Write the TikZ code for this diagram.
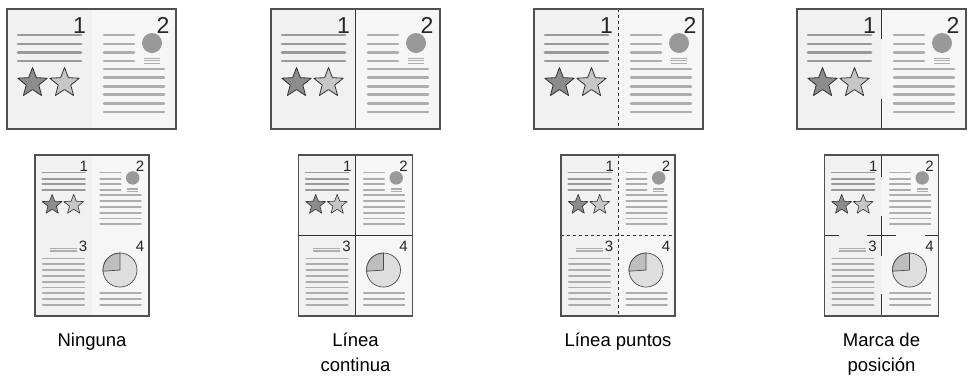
\documentclass[tikz,border=0pt]{standalone}
\usepackage{fontspec}
\setmainfont{Liberation Sans}
\usetikzlibrary{calc}
\definecolor{bgL}{HTML}{F1F1F1}
\definecolor{bgR}{HTML}{F6F6F6}
\definecolor{lnA}{HTML}{999999}
\definecolor{lnB}{HTML}{ADADAD}
\definecolor{frm}{HTML}{505050}
\definecolor{starA}{HTML}{8C8C8C}
\definecolor{starB}{HTML}{C6C6C6}
\definecolor{pieA}{HTML}{DEDEDE}
\definecolor{pieB}{HTML}{BEBEBE}
\newcommand\mystar[3]{%
  \draw[staredge, fill=#3] ($(#1,#2)+(-90:15.5)$) -- ($(#1,#2)+(-54:6.6)$) -- ($(#1,#2)+(-18:15.5)$) -- ($(#1,#2)+(18:6.6)$) -- ($(#1,#2)+(54:15.5)$) -- ($(#1,#2)+(90:6.6)$) -- ($(#1,#2)+(126:15.5)$) -- ($(#1,#2)+(162:6.6)$) -- ($(#1,#2)+(198:15.5)$) -- ($(#1,#2)+(234:6.6)$) -- cycle;}
\tikzset{
  txtA/.style={draw=lnA, line width=2.7pt, line cap=round},
  txtB/.style={draw=lnB, line width=2.7pt, line cap=round},
  thinB/.style={draw=lnB, line width=0.9pt},
  staredge/.style={draw=black!80, line width=0.8pt, line join=round},
  pieedge/.style={draw=black!70, line width=0.8pt},
  digit/.style={font=\fontsize{23}{23}\selectfont, inner sep=0pt, anchor=base east, text=black!85},
  frame/.style={draw=frm, line width=1.5pt},
  divider/.style={draw=black!80, line width=1.1pt},
  dotdiv/.style={draw=black!80, line width=0.9pt, dash pattern=on 3pt off 3pt},
  lbl/.style={font=\fontsize{18.5}{25}\selectfont, inner sep=0pt, anchor=north, align=center},
  pics/pageone/.style={code={
    \node[digit] (-d) at (79,24) {1};
    \foreach \yy in {26,35,43.5,52} \draw[txtA] (11,\yy) -- (74,\yy);
    \mystar{25.5}{74}{starA}
    \mystar{57.5}{74}{starB}
  }},
  pics/pagetwo/.style={code={
    \node[digit] (-d) at (78,24) {2};
    \foreach \yy in {26,35,43.5,52} \draw[txtB] (12.5,\yy) -- (42.5,\yy);
    \fill[lnA] (60.5,34) circle (10);
    \foreach \yy in {49,51.5,54} \draw[thinB] (52.5,\yy) -- (68.5,\yy);
    \foreach \yy in {60,68.6,77.2,85.8,94.4,103} \draw[txtB] (12.5,\yy) -- (72.5,\yy);
  }},
  pics/pagethree/.style={code={
    \node[digit] (-d) at (78,24) {3};
    \foreach \yy in {19,21.5,24} \draw[thinB] (22,\yy) -- (62,\yy);
    \foreach \yy in {34.2,42.8,51.4,60,68.6,77.2,85.8,94.4,103} \draw[txtB] (11.5,\yy) -- (73,\yy);
  }},
  pics/pagefour/.style={code={
    \node[digit] (-d) at (78,24) {4};
    \filldraw[fill=pieA, pieedge] (41.6,51.3) circle (25.3);
    \filldraw[fill=pieB, pieedge] (41.6,51.3) -- +(176:25.3) arc (176:270:25.3) -- cycle;
    \foreach \yy in {85.8,94.4,103} \draw[txtB] (12.5,\yy) -- (72.5,\yy);
  }},
  small/.style={
    txtA/.style={draw=lnA, line width=1.9pt, line cap=round},
    txtB/.style={draw=lnB, line width=1.9pt, line cap=round},
    thinB/.style={draw=lnB, line width=0.6pt},
    staredge/.style={draw=black!80, line width=0.6pt, line join=round},
    pieedge/.style={draw=black!70, line width=0.7pt},
    digit/.style={font=\fontsize{15}{15}\selectfont, inner sep=0pt, anchor=base east, text=black!85},
  },
}
\begin{document}
\begin{tikzpicture}[x=1pt,y=-1pt]
\useasboundingbox (0,0) rectangle (969,376);
% ---------- top row ----------
\foreach \xo/\k in {7/1,271/2,534/3,797/4}{
  \begin{scope}[shift={(\xo,9)}]
    \fill[bgL] (0,0) rectangle (84.5,120);
    \fill[bgR] (84.5,0) rectangle (169,120);
    \pic (t\k a) at (0,0) {pageone};
    \pic (t\k b) at (84.5,0) {pagetwo};
  \end{scope}
}
\draw[divider] (271+84.5,9) -- (271+84.5,129);
\draw[dotdiv] (534+84.5,9) -- (534+84.5,129);
\draw[divider] (797+84.5,9) -- (797+84.5,39);
\draw[divider] (797+84.5,99) -- (797+84.5,129);
\foreach \xo in {7,271,534,797}
  \draw[frame] (\xo,9) rectangle (\xo+169,129);
% ---------- bottom row ----------
\foreach \xo/\k in {35/1,298.5/2,561/3,824.5/4}{
  \begin{scope}[shift={(\xo,155)}, small]
    \fill[bgL] (0,0) rectangle (57,161);
    \fill[bgR] (57,0) rectangle (114,161);
    \pic[scale=0.673] (b\k a) at (0,0) {pageone};
    \pic[scale=0.673] (b\k b) at (57,0) {pagetwo};
    \pic[scale=0.673] (b\k c) at (0,80.5) {pagethree};
    \pic[scale=0.673] (b\k d) at (57,80.5) {pagefour};
  \end{scope}
}
\begin{scope}[shift={(298.5,155)}]
  \draw[divider] (57,0) -- (57,161);
  \draw[divider] (0,80.5) -- (114,80.5);
\end{scope}
\begin{scope}[shift={(561,155)}]
  \draw[dotdiv] (57,0) -- (57,161);
  \draw[dotdiv] (0,80.5) -- (114,80.5);
\end{scope}
\begin{scope}[shift={(824.5,155)}]
  \draw[divider] (57,0) -- (57,22);
  \draw[divider] (57,139) -- (57,161);
  \draw[divider] (0,80.5) -- (14,80.5);
  \draw[divider] (100,80.5) -- (114,80.5);
  \draw[divider] (57,60.5) -- (57,100.5);
  \draw[divider] (42.5,80.5) -- (71.5,80.5);
\end{scope}
\foreach \xo in {35,298.5,561,824.5}
  \draw[frame] (\xo,155) rectangle (\xo+114,316);
% ---------- labels ----------
\node[lbl] (l1) at (92,333) {Ninguna};
\node[lbl] (l2) at (355.5,333) {Línea\\continua};
\node[lbl] (l3) at (618,333) {Línea puntos};
\node[lbl] (l4) at (881.5,333) {Marca de\\posición};
\end{tikzpicture}
\end{document}
